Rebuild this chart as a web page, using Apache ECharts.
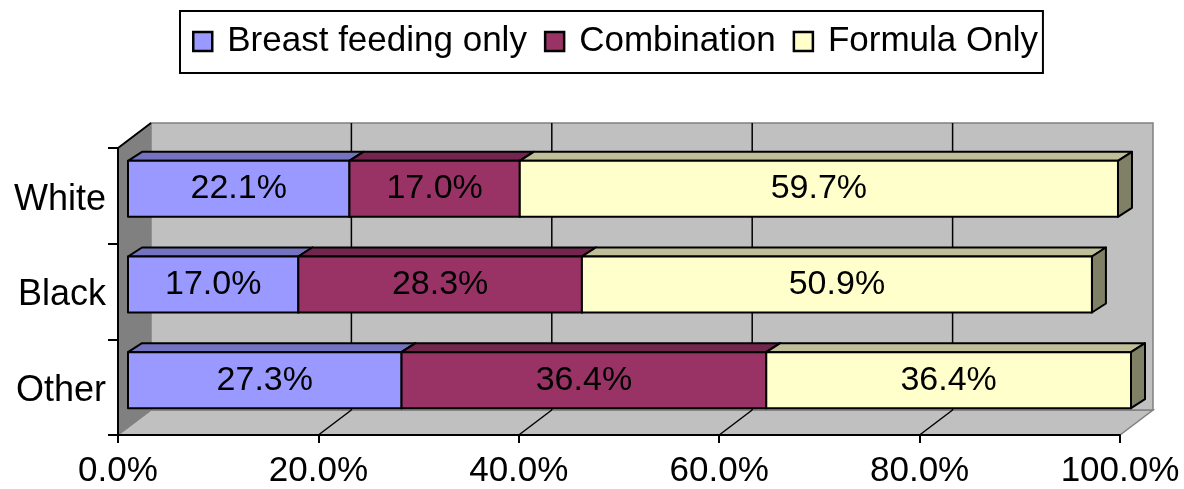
<!DOCTYPE html>
<html>
<head>
<meta charset="utf-8">
<script src="https://cdn.jsdelivr.net/npm/echarts@6/dist/echarts.min.js"></script>
<style>
  html, body { margin: 0; padding: 0; background: #fff; }
  #chart { width: 1184px; height: 489px; }
</style>
</head>
<body>
<div id="chart"></div>
<script>
// Infant feeding method by race (share of mothers, %)
const categories = ['White', 'Black', 'Other'];
const breastFeedingOnly = [22.1, 17.0, 27.3];
const combination = [17.0, 28.3, 36.4];
const formulaOnly = [59.7, 50.9, 36.4];
const xTickLabels = ['0.0%', '20.0%', '40.0%', '60.0%', '80.0%', '100.0%'];

const FONT = '"Liberation Sans", Arial, sans-serif';

// pseudo-3D geometry (pixels)
const WALL_DX = 33, WALL_DY = -25;   // depth of the back wall
const BAR_OX = 10, BAR_OY = -7;      // front face of bars sits this far back
const BAR_DX = 14, BAR_DY = -9;      // bar depth
const BAR_RATIO = 0.585;             // bar height / category band

// stacked start positions
const stacks = [breastFeedingOnly, combination, formulaOnly];
function startsFor(k) {
  return categories.map((_, i) => {
    let s = 0;
    for (let j = 0; j < k; j++) s += stacks[j][i];
    return s;
  });
}

function seriesData(k) {
  const starts = startsFor(k);
  return categories.map((_, i) => [starts[i], i, stacks[k][i]]);
}

function barRenderer(front, top, side) {
  return function (params, api) {
    const start = api.value(0);
    const idx = api.value(1);
    const val = api.value(2);
    const p0 = api.coord([start, idx]);
    const p1 = api.coord([start + val, idx]);
    const band = api.size([0, 1])[1];
    const h = band * BAR_RATIO;
    const x0 = p0[0] + BAR_OX, x1 = p1[0] + BAR_OX;
    const yc = p0[1] + BAR_OY;
    const yt = yc - h / 2, yb = yc + h / 2;
    const stroke = { stroke: '#000', lineWidth: 2, lineJoin: 'round' };
    return {
      type: 'group',
      children: [
        {
          type: 'polygon',
          shape: { points: [[x0, yt], [x0 + BAR_DX, yt + BAR_DY], [x1 + BAR_DX, yt + BAR_DY], [x1, yt]] },
          style: Object.assign({ fill: top }, stroke)
        },
        {
          type: 'polygon',
          shape: { points: [[x1, yt], [x1 + BAR_DX, yt + BAR_DY], [x1 + BAR_DX, yb + BAR_DY], [x1, yb]] },
          style: Object.assign({ fill: side }, stroke)
        },
        {
          type: 'rect',
          shape: { x: x0, y: yt, width: x1 - x0, height: h },
          style: Object.assign({ fill: front }, stroke)
        },
        {
          type: 'text',
          x: (x0 + x1) / 2,
          y: yc,
          style: {
            text: val.toFixed(1) + '%',
            fill: '#000',
            font: '34px ' + FONT,
            align: 'center',
            verticalAlign: 'middle'
          }
        }
      ]
    };
  };
}

function wallRenderer(params, api) {
  const cs = params.coordSys;
  const L = cs.x, T = cs.y, R = cs.x + cs.width, B = cs.y + cs.height;
  const dx = WALL_DX, dy = WALL_DY;
  const children = [
    // floor
    {
      type: 'polygon',
      shape: { points: [[L, B], [L + dx, B + dy], [R + dx, B + dy], [R, B]] },
      style: { fill: '#C0C0C0', stroke: '#808080', lineWidth: 1.5 }
    },
    // side wall
    {
      type: 'polygon',
      shape: { points: [[L, T], [L + dx, T + dy], [L + dx, B + dy], [L, B]] },
      style: { fill: '#808080', stroke: '#808080', lineWidth: 1 }
    },
    // back wall
    {
      type: 'rect',
      shape: { x: L + dx, y: T + dy, width: R - L, height: B - T },
      style: { fill: '#C0C0C0', stroke: '#808080', lineWidth: 1.5 }
    },
    // top edge of side wall
    {
      type: 'line',
      shape: { x1: L, y1: T, x2: L + dx, y2: T + dy },
      style: { stroke: '#000', lineWidth: 2 }
    }
  ];
  [20, 40, 60, 80].forEach(v => {
    const x = api.coord([v, 0])[0];
    children.push({
      type: 'line',
      shape: { x1: x + dx, y1: T + dy, x2: x + dx, y2: B + dy },
      style: { stroke: '#000', lineWidth: 1.5 }
    });
    children.push({
      type: 'line',
      shape: { x1: x, y1: B, x2: x + dx, y2: B + dy },
      style: { stroke: '#000', lineWidth: 1.5 }
    });
  });
  return { type: 'group', children: children };
}

const seriesNames = ['Breast feeding only', 'Combination', 'Formula Only'];
const fronts = ['#9999FF', '#993366', '#FFFFCC'];
const tops = ['#7373BF', '#73264D', '#BFBF99'];
const sides = ['#5C5C99', '#5C1F3D', '#808066'];

const chart = echarts.init(document.getElementById('chart'), null, { renderer: 'canvas' });

const option = {
  animation: false,
  backgroundColor: '#fff',
  legend: {
    left: 180,
    top: 11,
    orient: 'horizontal',
    data: seriesNames,
    icon: 'rect',
    itemWidth: 19,
    itemHeight: 19,
    itemGap: 17,
    padding: [13, 5, 14, 12],
    borderColor: '#000',
    borderWidth: 2,
    itemStyle: { borderColor: '#000', borderWidth: 2.5 },
    textStyle: { fontSize: 35, fontFamily: FONT, color: '#000', padding: [0, 0, 0, 10] }
  },
  grid: { left: 118, top: 148, width: 1002, height: 287, containLabel: false },
  xAxis: {
    type: 'value',
    min: 0,
    max: 100,
    interval: 20,
    z: 10,
    axisLine: { show: true, lineStyle: { color: '#000', width: 2 } },
    axisTick: { show: true, length: 8, lineStyle: { color: '#000', width: 2 } },
    splitLine: { show: false },
    axisLabel: {
      fontSize: 35,
      fontFamily: FONT,
      color: '#000',
      margin: 19,
      formatter: (v) => xTickLabels[Math.round(v / 20)]
    }
  },
  yAxis: {
    type: 'category',
    data: categories,
    inverse: true,
    z: 10,
    axisLine: { show: true, lineStyle: { color: '#000', width: 2 } },
    axisTick: { show: true, length: 10, alignWithLabel: false, lineStyle: { color: '#000', width: 2 } },
    splitLine: { show: false },
    axisLabel: {
      fontSize: 36,
      fontFamily: FONT,
      color: '#000',
      margin: 12,
      verticalAlign: 'top',
      lineHeight: 8
    }
  },
  series: [
    {
      type: 'custom',
      name: 'walls',
      silent: true,
      z: 1,
      renderItem: wallRenderer,
      data: [[0, 0]],
      encode: { x: 0, y: 1 }
    }
  ].concat(seriesNames.map((name, k) => ({
    type: 'custom',
    name: name,
    z: 2 + k,
    renderItem: barRenderer(fronts[k], tops[k], sides[k]),
    itemStyle: { color: fronts[k], borderColor: '#000', borderWidth: 2 },
    encode: { x: 0, y: 1 },
    data: seriesData(k)
  })))
};

chart.setOption(option);
</script>
</body>
</html>
